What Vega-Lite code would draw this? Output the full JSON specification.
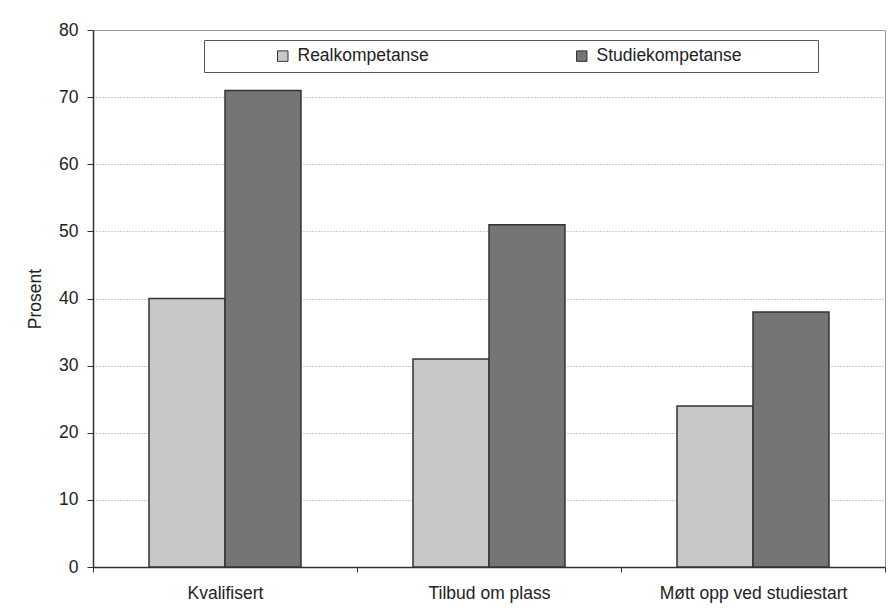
{
  "$schema": "https://vega.github.io/schema/vega-lite/v6.json",
  "autosize": {"type": "none"},
  "width": 792,
  "height": 537,
  "padding": {"left": 93, "top": 30, "right": 3, "bottom": 46},
  "background": "white",
  "data": {
    "values": [
      {"kategori": "Kvalifisert", "gruppe": "Realkompetanse", "prosent": 40},
      {"kategori": "Kvalifisert", "gruppe": "Studiekompetanse", "prosent": 71},
      {"kategori": "Tilbud om plass", "gruppe": "Realkompetanse", "prosent": 31},
      {"kategori": "Tilbud om plass", "gruppe": "Studiekompetanse", "prosent": 51},
      {"kategori": "Møtt opp ved studiestart", "gruppe": "Realkompetanse", "prosent": 24},
      {"kategori": "Møtt opp ved studiestart", "gruppe": "Studiekompetanse", "prosent": 38}
    ]
  },
  "mark": {"type": "bar", "stroke": "#333333", "strokeWidth": 1.5},
  "encoding": {
    "x": {
      "field": "kategori",
      "type": "nominal",
      "sort": ["Kvalifisert", "Tilbud om plass", "Møtt opp ved studiestart"],
      "scale": {"paddingInner": 0, "paddingOuter": 0},
      "axis": {
        "title": null,
        "labelAngle": 0,
        "labelFontSize": 17.5,
        "labelPadding": 12,
        "labelLimit": 400,
        "tickBand": "extent",
        "tickSize": 5,
        "tickColor": "#333333",
        "domainColor": "#333333",
        "domainWidth": 1.5,
        "labelColor": "#222222"
      }
    },
    "xOffset": {
      "field": "gruppe",
      "type": "nominal",
      "scale": {"paddingInner": 0, "paddingOuter": 0.737}
    },
    "y": {
      "field": "prosent",
      "type": "quantitative",
      "scale": {"domain": [0, 80], "nice": false},
      "axis": {
        "title": "Prosent",
        "titleFontSize": 17.5,
        "titleFontWeight": "normal",
        "titleColor": "#222222",
        "titlePadding": 14,
        "values": [0, 10, 20, 30, 40, 50, 60, 70, 80],
        "labelFontSize": 17.5,
        "labelPadding": 9,
        "labelColor": "#222222",
        "tickSize": 6,
        "tickColor": "#333333",
        "domainColor": "#333333",
        "domainWidth": 1.5,
        "grid": true,
        "gridColor": "#999999",
        "gridDash": [1, 2],
        "gridWidth": 1
      }
    },
    "fill": {
      "field": "gruppe",
      "type": "nominal",
      "scale": {"domain": ["Realkompetanse", "Studiekompetanse"], "range": ["#c8c8c8", "#757575"]},
      "legend": {
        "orient": "none",
        "direction": "horizontal",
        "legendX": 111,
        "legendY": 10,
        "title": " ",
        "titleOrient": "right",
        "titlePadding": 70,
        "titleFontSize": 10,
        "fillColor": "white",
        "strokeColor": "#555555",
        "padding": 7,
        "symbolType": "square",
        "symbolSize": 110,
        "symbolStrokeColor": "#333333",
        "symbolStrokeWidth": 1,
        "symbolOffset": 63,
        "labelFontSize": 17.5,
        "labelColor": "#222222",
        "labelOffset": 6,
        "columnPadding": 81,
        "labelLimit": 300
      }
    }
  },
  "config": {
    "font": "Liberation Sans",
    "view": {"stroke": "#999999", "strokeWidth": 1},
    "axis": {"labelFont": "Liberation Sans", "titleFont": "Liberation Sans"},
    "legend": {"labelFont": "Liberation Sans", "titleFont": "Liberation Sans"}
  }
}
